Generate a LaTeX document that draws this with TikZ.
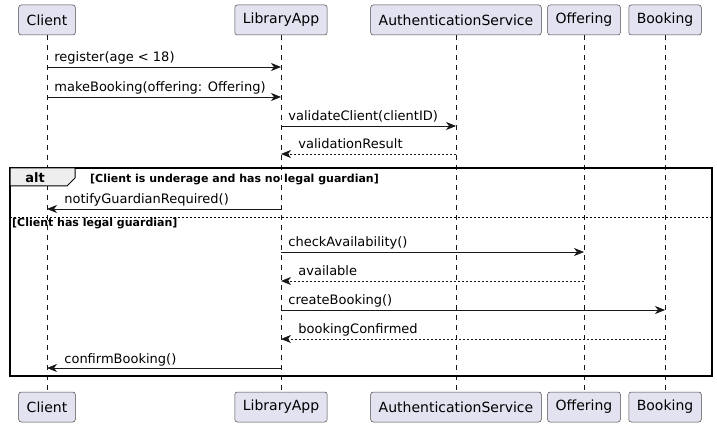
\documentclass[tikz,border=0pt]{standalone}
\usepackage{fontspec}
\setmainfont{DejaVu Sans}
\usetikzlibrary{positioning, calc, arrows.meta}
\definecolor{partfill}{HTML}{E2E2F0}
\definecolor{partline}{HTML}{181818}
\definecolor{tabfill}{HTML}{EEEEEE}

\begin{document}
\begin{tikzpicture}[x=1pt, y=-1pt,
  part/.style = {draw=partline!80, fill=partfill, rounded corners=2.5pt, minimum height=30pt, inner xsep=8pt, line width=0.5pt, font=\fontsize{14}{16}\selectfont},
  life/.style = {draw=partline, line width=0.5pt, dash pattern=on 5pt off 5pt},
  msg/.style = {draw=partline, line width=0.8pt, -{Stealth[length=10pt, width=8pt, inset=3pt]}},
  reply/.style = {msg, dash pattern=on 2pt off 2pt},
  lbl/.style = {anchor=base west, inner sep=0pt, yshift=5pt, font=\fontsize{13}{15}\selectfont},
  guard/.style = {anchor=base west, inner sep=0pt, font=\bfseries\fontsize{11}{13}\selectfont}]
\useasboundingbox (0,0) rectangle (717,427);
% participants
\node[part] (client) at (47,20) {Client};
\node[part] (lib) at (281,20) {LibraryApp};
\node[part] (auth) at (456,20) {AuthenticationService};
\node[part] (offer) at (584,20) {Offering};
\node[part] (book) at (665,20) {Booking};
\node[part] (clientB) at (47,407) {Client};
\node[part] (libB) at (281,407) {LibraryApp};
\node[part] (authB) at (456,407) {AuthenticationService};
\node[part] (offerB) at (584,407) {Offering};
\node[part] (bookB) at (665,407) {Booking};
% lifelines
\draw[life] (client) -- (clientB);
\draw[life] (lib) -- (libB);
\draw[life] (auth) -- (authB);
\draw[life] (offer) -- (offerB);
\draw[life] (book) -- (bookB);
% alt frame
\draw[line width=1.5pt] (10,168) rectangle (712,376);
\draw[fill=tabfill, line width=1pt] (10,168) -- (75,168) -- (75,178) -- (67,186) -- (10,186) -- cycle;
\node[anchor=base, inner sep=0pt, font=\bfseries\fontsize{13}{15}\selectfont] (alt) at (35,183) {alt};
\node[guard] (g1) at (90,183) {[Client is underage and has no legal guardian]};
\draw[line width=0.5pt, dash pattern=on 2pt off 2pt] (10,217) -- (712,217);
\node[guard] (g2) at (12,227) {[Client has legal guardian]};
% message rows
\coordinate (m1) at (0,67);
\coordinate (m2) at (0,97);
\coordinate (m3) at (0,126);
\coordinate (m4) at (0,154);
\coordinate (m5) at (0,209);
\coordinate (m6) at (0,252);
\coordinate (m7) at (0,281);
\coordinate (m8) at (0,310);
\coordinate (m9) at (0,339);
\coordinate (m10) at (0,368);
% messages
\draw[msg] (client |- m1) -- node[lbl, at start, xshift=7pt] {register(age < 18)} (lib |- m1);
\draw[msg] (client |- m2) -- node[lbl, at start, xshift=7pt] {makeBooking(offering: Offering)} (lib |- m2);
\draw[msg] (lib |- m3) -- node[lbl, at start, xshift=7pt] {validateClient(clientID)} (auth |- m3);
\draw[reply] (auth |- m4) -- node[lbl, at end, xshift=17pt] {validationResult} (lib |- m4);
\draw[msg] (lib |- m5) -- node[lbl, at end, xshift=17pt] {notifyGuardianRequired()} (client |- m5);
\draw[msg] (lib |- m6) -- node[lbl, at start, xshift=7pt] {checkAvailability()} (offer |- m6);
\draw[reply] (offer |- m7) -- node[lbl, at end, xshift=17pt] {available} (lib |- m7);
\draw[msg] (lib |- m8) -- node[lbl, at start, xshift=7pt] {createBooking()} (book |- m8);
\draw[reply] (book |- m9) -- node[lbl, at end, xshift=17pt] {bookingConfirmed} (lib |- m9);
\draw[msg] (lib |- m10) -- node[lbl, at end, xshift=17pt] {confirmBooking()} (client |- m10);
\end{tikzpicture}
\end{document}
